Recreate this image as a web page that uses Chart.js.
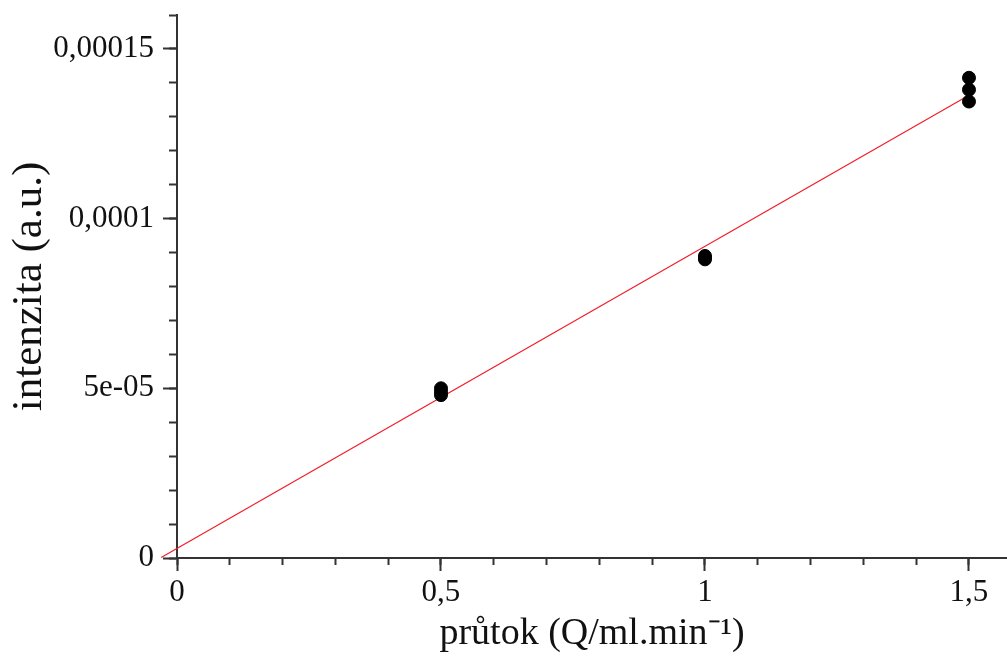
<!DOCTYPE html>
<html>
<head>
<meta charset="utf-8">
<title>intenzita vs průtok</title>
<script src="https://cdn.jsdelivr.net/npm/chart.js@4.4.1/dist/chart.umd.min.js"></script>
<style>
    html, body { margin: 0; padding: 0; background: #fff; overflow: hidden; }
    #wrap { width: 1007px; height: 657px; position: relative; }
    canvas { display: block; }
</style>
</head>
<body>
<div id="wrap"><canvas id="flowChart"></canvas></div>
<script>
// measured points: flow rate vs. signal intensity
const flow = [0.5, 0.5, 0.5, 1, 1, 1, 1.5, 1.5, 1.5];
const intensity = [5.0e-5, 4.9e-5, 4.8e-5, 8.9e-5, 8.85e-5, 8.8e-5, 1.415e-4, 1.38e-4, 1.345e-4];

// axis tick labels (Czech decimal comma)
const xTickLabels = ['0', '0,5', '1', '1,5'];
const yTickLabels = ['0', '5e-05', '0,0001', '0,00015'];

// x range covered by the fitted line
const fitRange = [-0.03, 1.5];

// least squares fit of the measured points
function linearFit(xs, ys) {
    const n = xs.length;
    const mx = xs.reduce((a, b) => a + b, 0) / n;
    const my = ys.reduce((a, b) => a + b, 0) / n;
    let sxy = 0, sxx = 0;
    for (let i = 0; i < n; i++) {
        sxy += (xs[i] - mx) * (ys[i] - my);
        sxx += (xs[i] - mx) * (xs[i] - mx);
    }
    const slope = sxy / sxx;
    return { slope: slope, intercept: my - slope * mx };
}

const fit = linearFit(flow, intensity);
const fitLine = fitRange.map(x => ({ x: x, y: fit.intercept + fit.slope * x }));
const points = flow.map((x, i) => ({ x: x, y: intensity[i] }));

const axisColor = '#333';
const textColor = '#111';
const serif = "'Liberation Serif', 'Times New Roman', serif";

const xMin = 0, xMax = 1.572;
const yMin = 0, yMax = 1.6e-4;

const ctx = document.getElementById('flowChart').getContext('2d');
new Chart(ctx, {
    type: 'scatter',
    data: {
        datasets: [{
            type: 'line',
            label: 'fit',
            data: fitLine,
            borderColor: 'rgb(240, 30, 40)',
            borderWidth: 1.2,
            pointRadius: 0,
            fill: false,
            clip: false,
            order: 2
        }, {
            label: 'intenzita',
            data: points,
            backgroundColor: '#000',
            borderColor: '#000',
            pointRadius: 6.5,
            pointHoverRadius: 6.5,
            order: 1
        }]
    },
    options: {
        responsive: true,
        maintainAspectRatio: false,
        animation: false,
        layout: {
            autoPadding: false,
            padding: { top: 15, right: 0, left: 0, bottom: 0 }
        },
        plugins: {
            legend: { display: false },
            tooltip: { enabled: false }
        },
        scales: {
            x: {
                type: 'linear',
                position: 'bottom',
                min: xMin,
                max: xMax,
                afterFit: function (scale) {
                    scale.height = 99;
                    scale.paddingLeft = 0;
                    scale.paddingRight = 0;
                },
                border: { color: axisColor, width: 2 },
                grid: { drawOnChartArea: false, tickLength: 13, tickColor: axisColor, tickWidth: 2 },
                ticks: {
                    stepSize: 0.5,
                    includeBounds: false,
                    maxRotation: 0,
                    padding: 3,
                    color: textColor,
                    font: { family: serif, size: 31 },
                    callback: function (value, index) { return xTickLabels[index]; }
                },
                title: {
                    display: true,
                    text: 'průtok (Q/ml.min⁻¹)',
                    color: textColor,
                    font: { family: serif, size: 38 },
                    padding: { top: 0, bottom: 0 }
                }
            },
            xMinor: {
                type: 'linear',
                axis: 'x',
                position: { y: 0 },
                min: xMin,
                max: xMax,
                border: { display: false },
                grid: { drawOnChartArea: false, tickLength: 7, tickColor: axisColor, tickWidth: 2 },
                ticks: { stepSize: 0.1, includeBounds: false, display: false }
            },
            y: {
                type: 'linear',
                position: 'left',
                min: yMin,
                max: yMax,
                afterFit: function (scale) {
                    scale.width = 177;
                    scale.paddingTop = 0;
                    scale.paddingBottom = 0;
                },
                border: { color: axisColor, width: 2 },
                grid: { drawOnChartArea: false, tickLength: 14, tickColor: axisColor, tickWidth: 2 },
                ticks: {
                    stepSize: 5e-5,
                    includeBounds: false,
                    padding: 9,
                    color: textColor,
                    font: { family: serif, size: 31 },
                    callback: function (value, index) { return yTickLabels[index]; }
                },
                title: {
                    display: true,
                    text: 'intenzita (a.u.)',
                    color: textColor,
                    font: { family: serif, size: 43 },
                    padding: { top: 4, bottom: 4 }
                }
            },
            yMinor: {
                type: 'linear',
                axis: 'y',
                position: { x: 0 },
                min: yMin,
                max: yMax,
                border: { display: false },
                grid: { drawOnChartArea: false, tickLength: 8, tickColor: axisColor, tickWidth: 2 },
                ticks: { stepSize: 1e-5, includeBounds: false, display: false }
            }
        }
    }
});
</script>
</body>
</html>
